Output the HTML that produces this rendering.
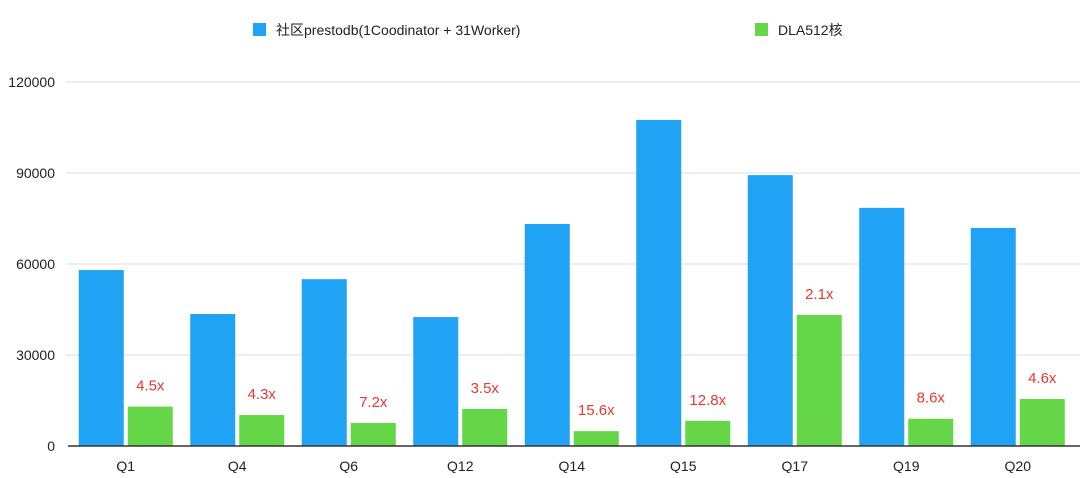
<!DOCTYPE html>
<html><head><meta charset="utf-8"><style>
body{margin:0;background:#fff;width:1080px;height:473px;overflow:hidden}
svg text{font-family:"Liberation Sans","Noto Sans CJK SC",sans-serif}
</style></head><body>
<svg id="chart" width="1080" height="473" xmlns="http://www.w3.org/2000/svg">
<g>
<rect x="253" y="23" width="13" height="13" fill="#20a2f5"/>
<text x="276" y="35" font-size="14" fill="#222">社区prestodb(1Coodinator + 31Worker)</text>
<rect x="755" y="23" width="13" height="13" fill="#64d648"/>
<text x="778" y="35" font-size="14" fill="#222">DLA512核</text>
</g>
<g id="grid"></g><g id="bars"></g><g id="labels"></g>
</svg>
<script>
const categories=["Q1","Q4","Q6","Q12","Q14","Q15","Q17","Q19","Q20"];
const prestoValues=[58000,43500,55000,42500,73200,107500,89300,78500,71900];
const dlaValues=[13000,10200,7600,12200,4900,8300,43200,9000,15500];
const speedupLabels=["4.5x","4.3x","7.2x","3.5x","15.6x","12.8x","2.1x","8.6x","4.6x"];
const yTicks=[0,30000,60000,90000,120000];
const NS="http://www.w3.org/2000/svg";
const x0=70,step=111.5,baseY=446,topY=82,maxV=120000;
const y=v=>baseY-(v/maxV)*(baseY-topY);
const cx=i=>x0+step*(i+0.5);
function mk(tag,attrs,parent){const e=document.createElementNS(NS,tag);for(const k in attrs)e.setAttribute(k,attrs[k]);document.getElementById(parent).appendChild(e);return e;}
yTicks.forEach(t=>{
  if(t>0){const l=mk('line',{x1:66,x2:1080,y1:y(t),y2:y(t),stroke:'#dcdcdc','stroke-width':1},'grid');
  
  }
  const tx=mk('text',{x:55,y:y(t)+5,'text-anchor':'end','font-size':14,fill:'#222'},'grid');
  tx.textContent=t;
  
  
});
categories.forEach((c,i)=>{
  const b=mk('rect',{x:cx(i)-47,y:y(prestoValues[i]),width:45,height:baseY-y(prestoValues[i]),fill:'#20a2f5'},'bars');
  
  
  const g=mk('rect',{x:cx(i)+2,y:y(dlaValues[i]),width:45,height:baseY-y(dlaValues[i]),fill:'#64d648'},'bars');
  
  
  const s=mk('text',{x:cx(i)+24.5,y:y(dlaValues[i])-16,'text-anchor':'middle','font-size':15,fill:'#e8382f'},'labels');
  s.textContent=speedupLabels[i];
  
  
  const xl=mk('text',{x:cx(i),y:471,'text-anchor':'middle','font-size':14,fill:'#222'},'labels');
  xl.textContent=c;
  
  
});
const ax=mk('line',{x1:68,x2:1080,y1:baseY,y2:baseY,stroke:'#333','stroke-width':1.5},'labels');


</script>
</body></html>
